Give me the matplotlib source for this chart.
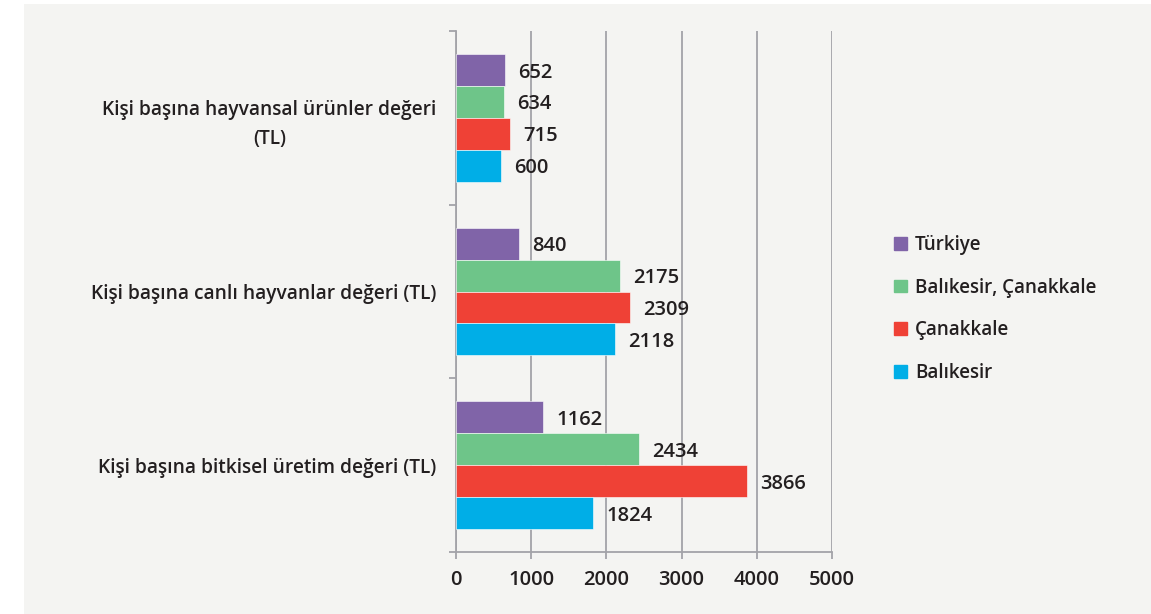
import matplotlib.pyplot as plt
import matplotlib.patches as mpatches
import numpy as np

categories = [
    "Kişi başına bitkisel üretim değeri (TL)",
    "Kişi başına canlı hayvanlar değeri (TL)",
    "Kişi başına hayvansal ürünler değeri\n(TL)",
]
series = ["Türkiye", "Balıkesir, Çanakkale", "Çanakkale", "Balıkesir"]
values = {
    "Türkiye": [1162, 840, 652],
    "Balıkesir, Çanakkale": [2434, 2175, 634],
    "Çanakkale": [3866, 2309, 715],
    "Balıkesir": [1824, 2118, 600],
}
colors = ["#8064a8", "#6ec589", "#ef4136", "#00aee7"]
xticks = [0, 1000, 2000, 3000, 4000, 5000]

plt.rcParams['font.family'] = ['Open Sans', 'DejaVu Sans']
text_color = "#231f20"
grid_color = "#a3a3a8"

fig = plt.figure(figsize=(11.51, 6.14), dpi=100, facecolor="white")
# light grey panel behind the chart
fig.patches.append(mpatches.Rectangle((24 / 1151, 0), 1, 1 - 4 / 614,
                                      transform=fig.transFigure,
                                      facecolor="#f4f4f2", edgecolor="none",
                                      zorder=-10))

ax = fig.add_axes([456 / 1151, 1 - 552 / 614, (832 - 456) / 1151, (552 - 31) / 614])
ax.set_facecolor("none")

y = np.arange(len(categories))
h = 0.184
offsets = [1.5 * h, 0.5 * h, -0.5 * h, -1.5 * h]

for name, col, off in zip(series, colors, offsets):
    vals = values[name]
    ax.barh(y + off, vals, height=h, color=col, edgecolor="white",
            linewidth=0.4, zorder=3, label=name)
    for yi, v in zip(y, vals):
        # labels sit a touch below the bar centre, like the original
        ax.text(v + 175, yi + off - 0.015, str(v), va="center", ha="left",
                fontsize=14.5, fontweight="semibold", color=text_color, zorder=4)

ax.set_xlim(0, 5000)
ax.set_ylim(-0.5, 2.5)
ax.set_xticks(xticks)
ax.set_xticklabels([str(t) for t in xticks])
ax.set_yticks(y)
ax.set_yticklabels(categories, multialignment="center", linespacing=1.6)
ax.set_yticks([-0.5, 0.5, 1.5, 2.5], minor=True)

ax.grid(axis="x", color=grid_color, linewidth=1.3, zorder=0)
for s in ["top", "right"]:
    ax.spines[s].set_visible(False)
for s in ["left", "bottom"]:
    ax.spines[s].set_color(grid_color)
    ax.spines[s].set_linewidth(1.3)

ax.tick_params(axis="y", which="major", length=0, pad=14, labelsize=13.8,
               labelcolor=text_color)
ax.tick_params(axis="y", which="minor", length=5, width=1.3, color=grid_color,
               direction="out")
ax.tick_params(axis="x", length=5, width=1.3, color=grid_color, pad=8,
               labelsize=14.5, labelcolor=text_color)
for lbl in ax.get_yticklabels():
    lbl.set_fontweight("semibold")
for lbl in ax.get_xticklabels():
    lbl.set_fontweight("semibold")

handles = [mpatches.Patch(color=c, label=s) for s, c in zip(series, colors)]
leg = fig.legend(handles=handles, loc="center left",
                 bbox_to_anchor=(877 / 1151, 1 - 309 / 614),
                 frameon=False, handlelength=0.68, handleheight=0.68,
                 handletextpad=0.45, labelspacing=1.22,
                 prop={"size": 13.5, "weight": "semibold"})
for t in leg.get_texts():
    t.set_color(text_color)

fig.savefig("out.png", dpi=100, facecolor="white")
